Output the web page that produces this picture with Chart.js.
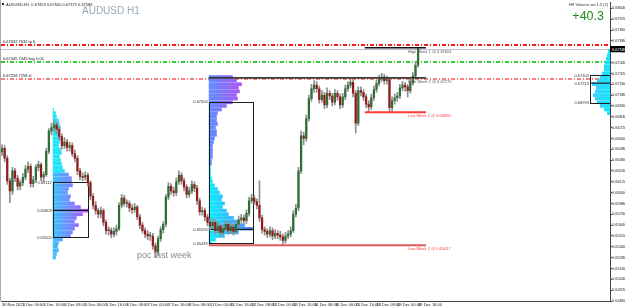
<!DOCTYPE html>
<html><head><meta charset="utf-8">
<script src="https://cdn.jsdelivr.net/npm/chart.js@4.4.1/dist/chart.umd.min.js"></script>
<style>html,body{margin:0;padding:0;background:#fff;overflow:hidden}canvas{display:block}</style>
</head><body>
<canvas id="c" width="625" height="308"></canvas>
<script>
// ---- time axis (2-hour bars, label every 8 bars) ----
const timeLabels = ["30 Nov 2023","1 Dec 00:00","1 Dec 16:00","4 Dec 08:00","5 Dec 00:00","5 Dec 16:00","6 Dec 08:00","7 Dec 00:00","7 Dec 16:00","8 Dec 08:00","11 Dec 00:00","11 Dec 16:00","12 Dec 08:00","13 Dec 00:00","13 Dec 16:00","14 Dec 08:00","15 Dec 00:00","15 Dec 16:00","18 Dec 08:00","19 Dec 00:00","19 Dec 16:00"];
const timeTickIndex = [0,8,16,24,32,40,48,56,64,72,80,88,96,104,112,120,128,136,144,152,160];
// ---- price axis tick labels ----
const priceTickLabels = ["0.68040","0.67920","0.67800","0.67680","0.67560","0.67440","0.67320","0.67200","0.67080","0.66960","0.66840","0.66720","0.66600","0.66480","0.66360","0.66240","0.66120","0.66000","0.65880","0.65760","0.65640","0.65520","0.65400","0.65280","0.65160","0.65040","0.64920","0.64800"];

// ---- candles ----
const opens = [0.6645,0.6649,0.6638,0.6613,0.6602,0.6624,0.6616,0.6607,0.6611,0.6617,
0.6626,0.6629,0.6610,0.6614,0.6628,0.6631,0.6617,0.6620,0.6646,0.6668,
0.6672,0.6675,0.6670,0.6662,0.6652,0.6656,0.6650,0.6652,0.6643,0.6638,
0.6624,0.6618,0.6617,0.6619,0.6611,0.6596,0.6586,0.6580,0.6576,0.6580,
0.6567,0.6558,0.6558,0.6554,0.6557,0.6560,0.6586,0.6594,0.6588,0.6588,
0.6583,0.6581,0.6584,0.6573,0.6564,0.6558,0.6554,0.6552,0.6552,0.6541,
0.6534,0.6549,0.6559,0.6565,0.6595,0.6607,0.6602,0.6600,0.6612,0.6619,
0.6613,0.6606,0.6598,0.6602,0.6609,0.6605,0.6591,0.6579,0.6580,0.6573,
0.6567,0.6563,0.6567,0.6558,0.6563,0.6556,0.6560,0.6565,0.6558,0.6562,
0.6557,0.6565,0.6570,0.6572,0.6569,0.6577,0.6591,0.6594,0.6590,0.6586,
0.6572,0.6559,0.6557,0.6554,0.6558,0.6552,0.6555,0.6553,0.6551,0.6547,
0.6552,0.6554,0.6558,0.6576,0.6583,0.6624,0.6663,0.6660,0.6682,0.6704,
0.6715,0.6719,0.6715,0.6703,0.6708,0.6697,0.6710,0.6707,0.6700,0.6710,
0.6706,0.6697,0.6706,0.6715,0.6719,0.6722,0.6710,0.6677,0.6713,0.6711,
0.6706,0.6698,0.6695,0.6705,0.6714,0.6721,0.6726,0.6728,0.6724,0.6725,
0.6694,0.6702,0.6705,0.6707,0.6716,0.6719,0.6717,0.6713,0.6722,0.6729,
0.6741];
const highs = [0.6653,0.6652,0.6641,0.6616,0.6628,0.6627,0.6619,0.6614,0.6621,0.6630,
0.6634,0.6632,0.6618,0.6631,0.6635,0.6633,0.6623,0.6649,0.6671,0.6677,
0.6681,0.6678,0.6673,0.6665,0.6661,0.6659,0.6656,0.6655,0.6647,0.6641,
0.6627,0.6622,0.6623,0.6622,0.6613,0.6599,0.6590,0.6583,0.6584,0.6582,
0.6570,0.6562,0.6561,0.6561,0.6564,0.6589,0.6598,0.6597,0.6592,0.6591,
0.6587,0.6588,0.6586,0.6576,0.6567,0.6561,0.6558,0.6556,0.6555,0.6544,
0.6552,0.6562,0.6568,0.6598,0.6611,0.6610,0.6606,0.6616,0.6624,0.6622,
0.6616,0.6609,0.6606,0.6613,0.6612,0.6608,0.6594,0.6584,0.6583,0.6576,
0.6571,0.6571,0.6570,0.6567,0.6566,0.6564,0.6569,0.6568,0.6566,0.6565,
0.6568,0.6574,0.6576,0.6575,0.6581,0.6595,0.6598,0.6597,0.6593,0.6613,
0.6575,0.6562,0.6560,0.6562,0.6561,0.6559,0.6558,0.6557,0.6554,0.6556,
0.6558,0.6562,0.6580,0.6587,0.6628,0.6668,0.6667,0.6686,0.6708,0.6720,
0.6724,0.6723,0.6718,0.6713,0.6711,0.6716,0.6713,0.6710,0.6714,0.6713,
0.6709,0.6710,0.6719,0.6723,0.6727,0.6725,0.6713,0.6717,0.6717,0.6714,
0.6709,0.6702,0.6709,0.6718,0.6725,0.6730,0.6732,0.6731,0.6729,0.6727,
0.6706,0.6709,0.6711,0.6720,0.6723,0.6722,0.6720,0.6726,0.6733,0.6745,
0.6760];
const lows = [0.6641,0.6634,0.6609,0.6589,0.6598,0.6612,0.6603,0.6603,0.6608,0.6614,
0.6622,0.6606,0.6606,0.6611,0.6624,0.6613,0.6612,0.6618,0.6643,0.6664,
0.6668,0.6665,0.6658,0.6648,0.6649,0.6646,0.6646,0.6640,0.6634,0.6620,
0.6614,0.6613,0.6614,0.6607,0.6592,0.6582,0.6576,0.6572,0.6572,0.6563,
0.6554,0.6553,0.6550,0.6551,0.6553,0.6558,0.6583,0.6585,0.6584,0.6579,
0.6577,0.6578,0.6570,0.6560,0.6555,0.6550,0.6548,0.6547,0.6537,0.6528,
0.6531,0.6546,0.6555,0.6562,0.6592,0.6598,0.6596,0.6597,0.6609,0.6609,
0.6602,0.6594,0.6595,0.6599,0.6601,0.6587,0.6575,0.6575,0.6569,0.6563,
0.6559,0.6560,0.6554,0.6555,0.6552,0.6553,0.6557,0.6554,0.6555,0.6553,
0.6554,0.6562,0.6567,0.6566,0.6566,0.6574,0.6588,0.6587,0.6582,0.6568,
0.6555,0.6553,0.6550,0.6551,0.6548,0.6549,0.6549,0.6547,0.6542,0.6544,
0.6549,0.6551,0.6556,0.6573,0.6580,0.6621,0.6653,0.6657,0.6679,0.6701,
0.6711,0.6711,0.6699,0.6700,0.6693,0.6694,0.6703,0.6696,0.6697,0.6702,
0.6693,0.6694,0.6703,0.6712,0.6716,0.6706,0.6666,0.6674,0.6707,0.6702,
0.6694,0.6690,0.6692,0.6702,0.6711,0.6718,0.6723,0.6720,0.6720,0.6689,
0.6690,0.6698,0.6701,0.6704,0.6713,0.6712,0.6706,0.6710,0.6719,0.6727,
0.6739];
const closes = [0.6649,0.6638,0.6613,0.6602,0.6624,0.6616,0.6607,0.6611,0.6617,0.6626,
0.6629,0.6610,0.6614,0.6628,0.6631,0.6617,0.6620,0.6646,0.6668,0.6672,
0.6675,0.6670,0.6662,0.6652,0.6656,0.6650,0.6652,0.6643,0.6638,0.6624,
0.6618,0.6617,0.6619,0.6611,0.6596,0.6586,0.6580,0.6576,0.6580,0.6567,
0.6558,0.6558,0.6554,0.6557,0.6560,0.6586,0.6594,0.6588,0.6588,0.6583,
0.6581,0.6584,0.6573,0.6564,0.6558,0.6554,0.6552,0.6552,0.6541,0.6534,
0.6549,0.6559,0.6565,0.6595,0.6607,0.6602,0.6600,0.6612,0.6619,0.6613,
0.6606,0.6598,0.6602,0.6609,0.6605,0.6591,0.6579,0.6580,0.6573,0.6567,
0.6563,0.6567,0.6558,0.6563,0.6556,0.6560,0.6565,0.6558,0.6562,0.6557,
0.6565,0.6570,0.6572,0.6569,0.6577,0.6591,0.6594,0.6590,0.6586,0.6572,
0.6559,0.6557,0.6554,0.6558,0.6552,0.6555,0.6553,0.6551,0.6547,0.6552,
0.6554,0.6558,0.6576,0.6583,0.6624,0.6663,0.6660,0.6682,0.6704,0.6715,
0.6719,0.6715,0.6703,0.6708,0.6697,0.6710,0.6707,0.6700,0.6710,0.6706,
0.6697,0.6706,0.6715,0.6719,0.6722,0.6710,0.6677,0.6713,0.6711,0.6706,
0.6698,0.6695,0.6705,0.6714,0.6721,0.6726,0.6728,0.6724,0.6725,0.6694,
0.6702,0.6705,0.6707,0.6716,0.6719,0.6717,0.6713,0.6722,0.6729,0.6741,
0.6759];

// ---- volume profiles (price level, relative volume) ----
const vp1Levels = [0.6692,0.6688,0.6684,0.6680,0.6676,0.6672,0.6668,0.6664,0.6660,0.6656,0.6652,0.6648,0.6644,0.6640,0.6636,0.6632,0.6628,0.6624,0.6620,0.6616,0.6612,0.6608,0.6604,0.6600,0.6596,0.6592,0.6588,0.6584,0.6580,0.6576,0.6572,0.6568,0.6564,0.6560,0.6556,0.6552,0.6548,0.6544,0.6540,0.6536,0.6532,0.6528];
const vp1Volumes = [1,3,4,6,7,8,7,6,8,7,6,8,9,7,8,9,10,12,16,19,19,20,16,15,18,17,22,28,36,30,24,22,26,22,20,18,10,6,5,6,4,3];
const vp1Box = [0.66112,0.65803,0.65505]; // value-area high, POC, value-area low

const vp2Levels = [0.6728,0.6724,0.6720,0.6716,0.6712,0.6708,0.6704,0.6700,0.6696,0.6692,0.6688,0.6684,0.6680,0.6676,0.6672,0.6668,0.6664,0.6660,0.6656,0.6652,0.6648,0.6644,0.6640,0.6636,0.6632,0.6628,0.6624,0.6620,0.6616,0.6612,0.6608,0.6604,0.6600,0.6596,0.6592,0.6588,0.6584,0.6580,0.6576,0.6572,0.6568,0.6564,0.6560,0.6556,0.6552,0.6548,0.6544];
const vp2Volumes = [24,28,33,30,31,28,29,24,18,13,9,8,8,9,7,8,8,6,5,4,4,4,4,3,3,2,2,2,3,4,6,9,11,14,13,16,14,18,20,25,30,36,44,30,16,7,3];
const vp2Box = [0.67004,0.65594,0.65439];

const vp3Levels = [0.6756,0.6752,0.6748,0.6744,0.6740,0.6736,0.6732,0.6728,0.6724,0.6720,0.6716,0.6712,0.6708,0.6704,0.6700,0.6696,0.6692,0.6688];
const vp3Volumes = [2,3,4,5,6,6,8,10,13,18,14,15,17,15,13,10,6,3];
const vp3Box = [0.67302,0.67213,0.66993];

// ---- horizontal levels ----
const tpLevel = 0.67632, entryLevel = 0.67445, slLevel = 0.67258;
const currentPrice = 0.67588;
const highWeek1 = 0.67604, lowWeek1 = 0.66890;
const highWeek2 = 0.67270, lowWeek2 = 0.65417;
const ohlcHeader = [0.67453, 0.67600, 0.67375, 0.67588];
const pipsGain = "+40.3";

// ================= rendering =================
const FONT = '"Liberation Sans", Arial, sans-serif';
const VOL_PX = 1;
const BULL = '#2f6e34', BEAR = '#951c1c', WICK = '#8e8e8e';

const X = (c, v) => c.scales.x.getPixelForValue(v);
const Y = (c, v) => c.scales.y.getPixelForValue(v);

const profiles = [
  {levels: vp1Levels, volumes: vp1Volumes, box: vp1Box, anchor: 19.5, boxEnd: 33.1, dir: 1, split: 0.6621,
   upper: ['#1fe6f6', '#3cccff'], lower: ['#38c2ff', '#b84cff']},
  {levels: vp2Levels, volumes: vp2Volumes, box: vp2Box, anchor: 79.5, boxEnd: 96.5, dir: 1, split: 0.6630,
   upper: ['#5d8dff', '#d042f0'], lower: ['#0eecff', '#5a84ff']},
  {levels: vp3Levels, volumes: vp3Volumes, box: vp3Box, anchor: null, boxStart: 226.1, dir: -1, split: 0,
   upper: ['#12e4ff', '#3ccfff'], lower: ['#12e4ff', '#3ccfff']}
];

function drawProfiles(chart) {
  const ctx = chart.ctx, a = chart.chartArea;
  profiles.forEach(p => {
    const step = Math.abs(p.levels[0] - p.levels[1]);
    const maxV = Math.max(...p.volumes);
    const x0 = p.anchor === null ? a.right : X(chart, p.anchor);
    p.levels.forEach((lv, i) => {
      const y0 = Y(chart, lv + step / 2), y1 = Y(chart, lv - step / 2);
      const w = p.volumes[i] * VOL_PX;
      const cols = lv >= p.split ? p.upper : p.lower;
      const g = ctx.createLinearGradient(x0, 0, x0 + p.dir * maxV * VOL_PX, 0);
      g.addColorStop(0, cols[0]); g.addColorStop(1, cols[1]);
      ctx.fillStyle = g;
      ctx.fillRect(p.dir > 0 ? x0 : x0 - w, y0, w, y1 - y0);
    });
  });
}

function drawBoxes(chart) {
  const ctx = chart.ctx, a = chart.chartArea;
  ctx.strokeStyle = '#1e1e1e';
  profiles.forEach(p => {
    let xl, xr;
    if (p.anchor === null) { xl = X(chart, p.boxStart); xr = a.right + 5; }
    else { xl = X(chart, p.anchor); xr = X(chart, p.boxEnd); }
    const yt = Y(chart, p.box[0]), yp = Y(chart, p.box[1]), yb = Y(chart, p.box[2]);
    ctx.lineWidth = 1;
    ctx.strokeRect(Math.round(xl) + 0.5, Math.round(yt) + 0.5, Math.round(xr - xl), Math.round(yb - yt));
    ctx.lineWidth = 1.3;
    ctx.beginPath(); ctx.moveTo(xl, yp); ctx.lineTo(xr, yp); ctx.stroke();
  });
}

const dashLevels = [
  {price: tpLevel, color: '#ff1a1a', text: '#7632 tp 0.'},
  {price: entryLevel, color: '#33cc33', text: '#7445 buy 0.01'},
  {price: slLevel, color: '#ff7d7d', text: '#7258 sl'}
];

function drawDashLines(chart) {
  const ctx = chart.ctx, a = chart.chartArea;
  ctx.setLineDash([]);
  ctx.strokeStyle = '#b9c2d2'; ctx.lineWidth = 1;
  let yc = Math.round(Y(chart, currentPrice)) + 0.5;
  ctx.beginPath(); ctx.moveTo(a.left, yc); ctx.lineTo(a.right, yc); ctx.stroke();
  dashLevels.forEach(d => {
    const y = Math.round(Y(chart, d.price));
    ctx.strokeStyle = d.color; ctx.lineWidth = 2;
    ctx.setLineDash([4, 2, 1, 2]);
    ctx.beginPath(); ctx.moveTo(a.left, y); ctx.lineTo(a.right, y); ctx.stroke();
  });
  ctx.setLineDash([]);
}

const weekLines = [
  {price: highWeek1, from: 139.5, to: 163, color: '#111', width: 1.6, name: 'High Week 1', tcol: '#555'},
  {price: highWeek2, from: 79.5, to: 163, color: '#3a3a3a', width: 1.8, name: 'High Week 2', tcol: '#555'},
  {price: lowWeek1, from: 139.5, to: 163, color: '#ff3b3b', width: 1.8, name: 'Low Week 1', tcol: '#ff3b3b'},
  {price: lowWeek2, from: 79.5, to: 163, color: '#e05a5a', width: 1.8, name: 'Low Week 2', tcol: '#ff3b3b'}
];

function drawWeekLines(chart) {
  const ctx = chart.ctx;
  weekLines.forEach(w => {
    const y = Y(chart, w.price);
    ctx.strokeStyle = w.color; ctx.lineWidth = w.width;
    ctx.beginPath(); ctx.moveTo(X(chart, w.from), y); ctx.lineTo(X(chart, w.to), y); ctx.stroke();
  });
}

function drawTexts(chart) {
  const ctx = chart.ctx, a = chart.chartArea;
  ctx.textBaseline = 'alphabetic';
  ctx.fillStyle = '#a8a8a8'; ctx.fillRect(0, 0, 1, a.bottom);
  ctx.fillStyle = '#222'; ctx.fillRect(2, 3, 2, 2);
  ctx.font = '4px ' + FONT; ctx.textAlign = 'left';
  ctx.fillText('AUDUSD,H1  ' + ohlcHeader.map(v => v.toFixed(5)).join(' '), 6, 6);
  ctx.font = '10px ' + FONT; ctx.fillStyle = '#9aa6b8';
  ctx.fillText('AUDUSD H1', 82, 14);
  ctx.font = '12.5px ' + FONT; ctx.fillStyle = '#1d8b1d'; ctx.textAlign = 'right';
  ctx.fillText(pipsGain, 604, 20);
  ctx.font = '4px ' + FONT; ctx.fillStyle = '#333';
  ctx.fillText('HR Volume ver.1.3 (2)', 608, 6);
  ctx.textAlign = 'left'; ctx.font = '4px ' + FONT; ctx.fillStyle = '#111';
  dashLevels.forEach(d => {
    ctx.fillText(d.text.replace('#', d.price.toFixed(5) + ' '), 3, Math.round(Y(chart, d.price)) - 2);
  });
  weekLines.forEach(w => {
    ctx.fillStyle = w.tcol;
    ctx.fillText(w.name + ' @ ' + w.price.toFixed(5), X(chart, 156.1), Y(chart, w.price) + 5);
  });
  ctx.fillStyle = '#333'; ctx.textAlign = 'right';
  profiles.forEach(p => {
    const xl = p.anchor === null ? X(chart, p.boxStart) : X(chart, p.anchor);
    p.box.forEach(v => ctx.fillText(v.toFixed(5), xl - 1, Y(chart, v) + 1.5));
  });
  ctx.textAlign = 'left'; ctx.font = '9px ' + FONT; ctx.fillStyle = '#8a8a8a';
  ctx.fillText('poc last week', 137, 258);
  const yc = Math.round(Y(chart, currentPrice));
  ctx.fillStyle = '#000'; ctx.fillRect(a.right, yc - 3, 625 - a.right, 6);
  ctx.fillStyle = '#fff'; ctx.font = '4px ' + FONT; ctx.textAlign = 'left';
  ctx.fillText(currentPrice.toFixed(5), a.right + 2, yc + 1.5);
}

const overlay = {
  id: 'overlay',
  beforeDatasetsDraw(chart) {
    const ctx = chart.ctx, a = chart.chartArea;
    ctx.save();
    ctx.beginPath(); ctx.rect(a.left, a.top, a.right - a.left, a.bottom - a.top); ctx.clip();
    drawDashLines(chart);
    drawProfiles(chart);
    drawBoxes(chart);
    ctx.restore();
  },
  afterDatasetsDraw(chart) {
    const ctx = chart.ctx, a = chart.chartArea;
    ctx.save();
    ctx.beginPath(); ctx.rect(a.left, a.top, a.right - a.left, a.bottom - a.top); ctx.clip();
    drawWeekLines(chart);
    ctx.restore();
  },
  afterDraw(chart) {
    chart.ctx.save(); drawTexts(chart); chart.ctx.restore();
  }
};

const bodyData = closes.map((c, i) => ({x: i, y: [opens[i], c]}));
const wickData = closes.map((c, i) => ({x: i, y: [lows[i], highs[i]]}));
const bodyColors = closes.map((c, i) => c >= opens[i] ? BULL : BEAR);

new Chart(document.getElementById('c'), {
  type: 'bar',
  data: {
    datasets: [
      {data: bodyData, backgroundColor: bodyColors, barThickness: 1.6, minBarLength: 1, grouped: false},
      {data: wickData, backgroundColor: WICK, barThickness: 1, grouped: false}
    ]
  },
  options: {
    responsive: false, animation: false, events: [], devicePixelRatio: 1,
    layout: {padding: {left: 1, top: 1, right: 0, bottom: 0}},
    plugins: {legend: {display: false}, tooltip: {enabled: false}},
    scales: {
      x: {
        type: 'linear', min: -0.4, max: 233.8, offset: false,
        grid: {display: true, drawOnChartArea: false, offset: false, tickLength: 1, color: '#444'},
        border: {display: true, color: '#444', width: 1},
        afterBuildTicks: s => { s.ticks = timeTickIndex.map(v => ({value: v})); },
        afterFit: s => { s.height = 7; },
        ticks: {autoSkip: false, maxRotation: 0, minRotation: 0, align: 'start', padding: 0,
          font: {size: 4, family: FONT}, color: '#222', callback: (v, i) => timeLabels[i]}
      },
      y: {
        type: 'linear', position: 'right', min: 0.64800, max: 0.68106, beginAtZero: false,
        grid: {display: true, drawOnChartArea: false, tickLength: 2, color: '#444'},
        border: {display: true, color: '#444', width: 1},
        afterBuildTicks: s => { s.ticks = priceTickLabels.map(t => ({value: Number(t)})); },
        afterFit: s => { s.width = 15; },
        ticks: {autoSkip: false, padding: 0, font: {size: 4, family: FONT}, color: '#222',
          callback: (v, i) => priceTickLabels[i]}
      }
    }
  },
  plugins: [overlay]
});
</script>
</body></html>
